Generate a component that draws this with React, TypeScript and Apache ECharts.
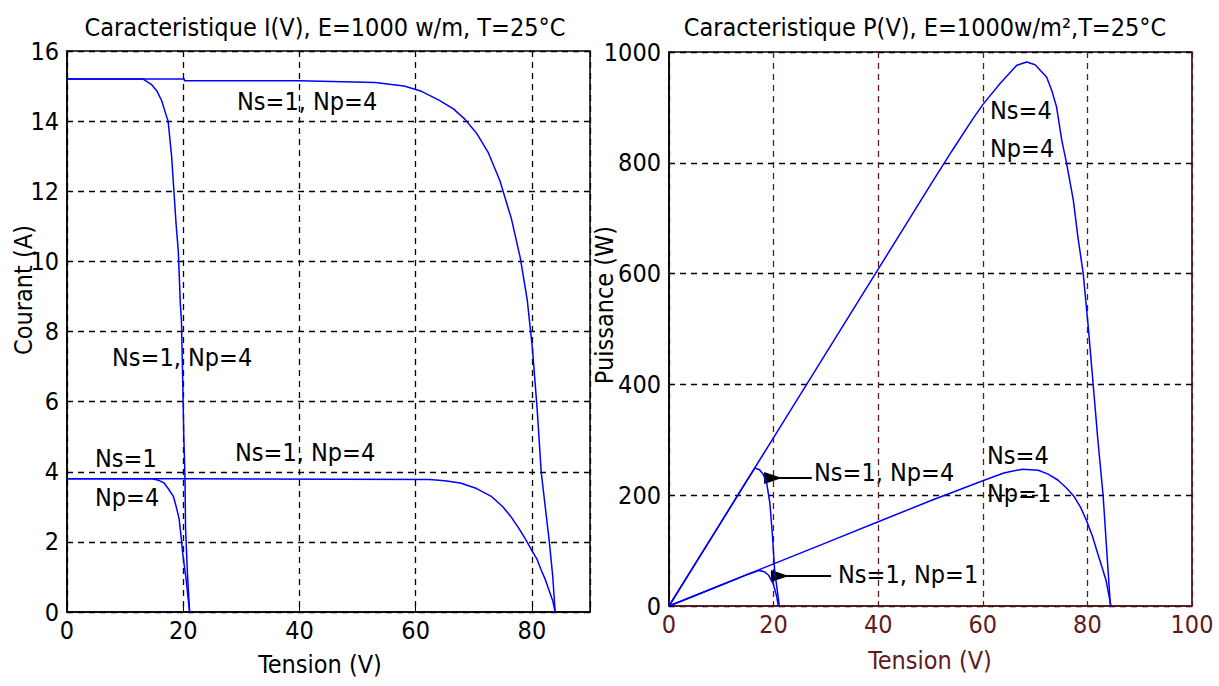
import React, { useEffect, useRef } from 'react';
import * as echarts from 'echarts';

// ---- I(V) curves: [Tension (V), Courant (A)] ----
const ivNs1Np1: number[][] = [
  [0, 3.8], [14.7, 3.8], [15.7, 3.76], [16.7, 3.68], [17.5, 3.5], [18.3, 3.3], [18.8, 3.0],
  [19.3, 2.65], [19.6, 2.2], [19.9, 1.7], [20.2, 1.3], [20.5, 0.93], [20.8, 0.45], [21.1, 0],
];
const ivNs1Np4: number[][] = [
  [0, 15.2], [13.1, 15.2], [14.5, 15.05], [15.5, 14.85], [16.3, 14.58], [17.0, 14.2], [17.4, 14.0],
  [18.0, 13.0], [18.4, 12.0], [18.8, 11.0], [19.15, 10.3], [19.5, 8.8], [19.7, 8.3], [19.9, 6.7],
  [20.1, 5.0], [20.3, 3.84], [20.4, 2.4], [20.7, 1.2], [21.1, 0],
];
const ivNs4Np1: number[][] = [
  [0, 3.8], [20.2, 3.8], [20.2, 3.78], [62.4, 3.78], [65, 3.74], [67.7, 3.68], [70.5, 3.52],
  [73, 3.3], [75, 3.0], [76.3, 2.74], [77.7, 2.4], [78.9, 2.08], [80, 1.75], [80.9, 1.5],
  [81.6, 1.2], [82.3, 0.93], [83, 0.6], [83.6, 0.31], [84, 0],
];
const ivNs4Np4: number[][] = [
  [0, 15.2], [20.2, 15.2], [20.2, 15.15], [40, 15.15], [53, 15.1], [58, 15.0], [61, 14.85],
  [64, 14.6], [66.5, 14.35], [68.5, 14.05], [70.5, 13.65], [72.5, 13.1], [74.5, 12.3], [76.5, 11.2],
  [78, 10.1], [79.2, 8.9], [80.1, 7.5], [80.9, 5.8], [81.6, 4.0], [82.3, 3.0], [83, 2.0],
  [83.6, 1.0], [84, 0],
];

// ---- P(V) curves: [Tension (V), Puissance (W)] ----
const pvNs1Np1: number[][] = [
  [0, 0], [5, 19], [10, 38], [15, 57], [17.2, 64], [18.2, 62], [19.0, 56], [19.9, 41],
  [20.6, 17], [20.9, 0],
];
const pvNs1Np4: number[][] = [
  [0, 0], [5, 76], [10, 152], [15, 228], [16.4, 249], [17.3, 246], [18.0, 238], [18.7, 221],
  [19.3, 185], [19.8, 124], [20.2, 64], [20.8, 21], [21.1, 0],
];
const pvNs4Np1: number[][] = [
  [0, 0], [10, 38], [20, 76], [30, 114], [40, 152], [50, 190], [60, 226], [64, 240],
  [67.6, 247], [70.6, 245], [72.5, 238], [74.4, 227], [76, 213], [77.5, 197], [78.7, 178],
  [79.8, 155], [81, 125], [82, 94], [82.8, 70], [83.6, 45], [84.5, 0],
];
const pvNs4Np4: number[][] = [
  [0, 0], [10, 152], [20, 304], [30, 456], [40, 608], [50, 760], [54, 820], [58, 878],
  [60, 905], [63.3, 943], [66.5, 976], [68.4, 982], [70, 977], [71.2, 965], [72.2, 955],
  [73.2, 930], [74.1, 901], [75.1, 841], [76, 800], [77.3, 733], [78.2, 665], [79.2, 600],
  [80.2, 500], [81.1, 400], [82, 300], [83, 200], [83.7, 100], [84.4, 0],
];

// arrows on the P(V) plot: [start, tip]
const arrowNp4: number[][] = [[27.3, 231], [19.9, 231]];
const arrowNp1: number[][] = [[31.0, 54], [21.2, 54]];

const titleIV = 'Caracteristique I(V), E=1000 w/m, T=25°C';
const titlePV = 'Caracteristique P(V), E=1000w/m²,T=25°C';

const FONT = "'Liberation Sans Narrow', 'Arial Narrow', 'DejaVu Sans Condensed', sans-serif";
const FS = 25;
const BLUE = '#0000ff';
const BROWN = '#5e1b1b';

export default function App() {
  const ref = useRef<HTMLDivElement>(null);
  useEffect(() => {
    const chart = echarts.init(ref.current!, null, { renderer: 'svg' });
    const dashed = (color: string) => ({
      show: true,
      lineStyle: { color, type: [6, 5] as any, width: 1.3 },
    });
    const lbl = (color: string) => ({
      color,
      fontFamily: FONT,
      fontSize: FS,
    });
    const txt = (text: string, x: number, y: number, extra: any = {}) => ({
      type: 'text',
      x,
      y,
      silent: true,
      style: {
        text,
        fill: '#000',
        font: `${FS}px ${FONT}`,
        align: 'left',
        verticalAlign: 'middle',
        ...extra,
      },
    });
    const line = (data: number[][], gi: number, extra: any = {}) => ({
      type: 'line',
      xAxisIndex: gi,
      yAxisIndex: gi,
      data,
      showSymbol: false,
      symbol: 'none',
      lineStyle: { color: BLUE, width: 1.5 },
      itemStyle: { color: BLUE },
      z: 5,
      ...extra,
    });
    const arrow = (pts: number[][]) => ({
      silent: true,
      symbol: ['none', 'triangle'],
      symbolSize: [12, 18],
      symbolRotate: -90,
      label: { show: false },
      lineStyle: { color: '#000', type: 'solid', width: 2 },
      itemStyle: { color: '#000' },
      data: [[{ coord: pts[0] }, { coord: pts[1] }]],
    });
    const plain = (v: number) => String(v);
    chart.setOption({
      animation: false,
      backgroundColor: '#fff',
      grid: [
        { left: 67, top: 51, width: 523, height: 561, show: true, borderColor: '#000', borderWidth: 1.5, backgroundColor: 'transparent' },
        { left: 669, top: 52, width: 523, height: 554, show: true, borderColor: '#000', borderWidth: 1.5, backgroundColor: 'transparent' },
      ],
      xAxis: [
        {
          gridIndex: 0, type: 'value', min: 0, max: 90, interval: 20,
          axisLine: { show: true, lineStyle: { color: '#000', width: 1.5 } },
          axisTick: { show: true, inside: true, length: 5, lineStyle: { color: '#000' } },
          axisLabel: { ...lbl('#000'), margin: 6, formatter: (v: number) => (v === 90 ? '' : String(v)) },
          splitLine: dashed('#000'),
        },
        {
          gridIndex: 1, type: 'value', min: 0, max: 100, interval: 20,
          axisLine: { show: true, lineStyle: { color: BROWN, width: 1.5 } },
          axisTick: { show: true, inside: true, length: 5, lineStyle: { color: BROWN } },
          axisLabel: { ...lbl(BROWN), margin: 6, showMaxLabel: true, formatter: plain },
          splitLine: dashed(BROWN),
        },
      ],
      yAxis: [
        {
          gridIndex: 0, type: 'value', min: 0, max: 16, interval: 2,
          axisLine: { show: true, lineStyle: { color: '#000', width: 1.5 } },
          axisTick: { show: true, inside: true, length: 5, lineStyle: { color: '#000' } },
          axisLabel: { ...lbl('#000'), margin: 8, formatter: plain },
          splitLine: dashed('#000'),
        },
        {
          gridIndex: 1, type: 'value', min: 0, max: 1000, interval: 200,
          axisLine: { show: true, lineStyle: { color: '#000', width: 1.5 } },
          axisTick: { show: true, inside: true, length: 5, lineStyle: { color: '#000' } },
          axisLabel: { ...lbl('#000'), margin: 8, formatter: plain },
          splitLine: dashed('#000'),
        },
      ],
      series: [
        line(ivNs1Np1, 0),
        line(ivNs1Np4, 0),
        line(ivNs4Np1, 0),
        line(ivNs4Np4, 0),
        line(pvNs1Np1, 1, { markLine: arrow(arrowNp1) }),
        line(pvNs1Np4, 1, { markLine: arrow(arrowNp4) }),
        line(pvNs4Np1, 1),
        line(pvNs4Np4, 1),
      ],
      graphic: [
        txt(titleIV, 325, 27, { align: 'center' }),
        txt(titlePV, 925, 27, { align: 'center' }),
        txt('Tension (V)', 320, 664, { align: 'center' }),
        txt('Tension (V)', 930, 660, { align: 'center', fill: BROWN }),
        { ...txt('Courant (A)', 0, 0, { align: 'center' }), x: 23, y: 290, rotation: Math.PI / 2 },
        { ...txt('Puissance (W)', 0, 0, { align: 'center' }), x: 604, y: 305, rotation: Math.PI / 2 },
        txt('Ns=1, Np=4', 237, 101),
        txt('Ns=1, Np=4', 112, 357),
        txt('Ns=1, Np=4', 235, 452),
        txt('Ns=1', 95, 458),
        txt('Np=4', 95, 497),
        txt('Ns=4', 990, 110),
        txt('Np=4', 990, 148),
        txt('Ns=4', 987, 455),
        txt('Np=1', 987, 493),
        txt('Ns=1, Np=4', 814, 472),
        txt('Ns=1, Np=1', 838, 574),
      ],
    });
    return () => chart.dispose();
  }, []);
  return (
    <div
      ref={ref}
      style={{ position: 'fixed', left: 0, top: 0, width: 1219, height: 686, background: '#fff' }}
    />
  );
}
